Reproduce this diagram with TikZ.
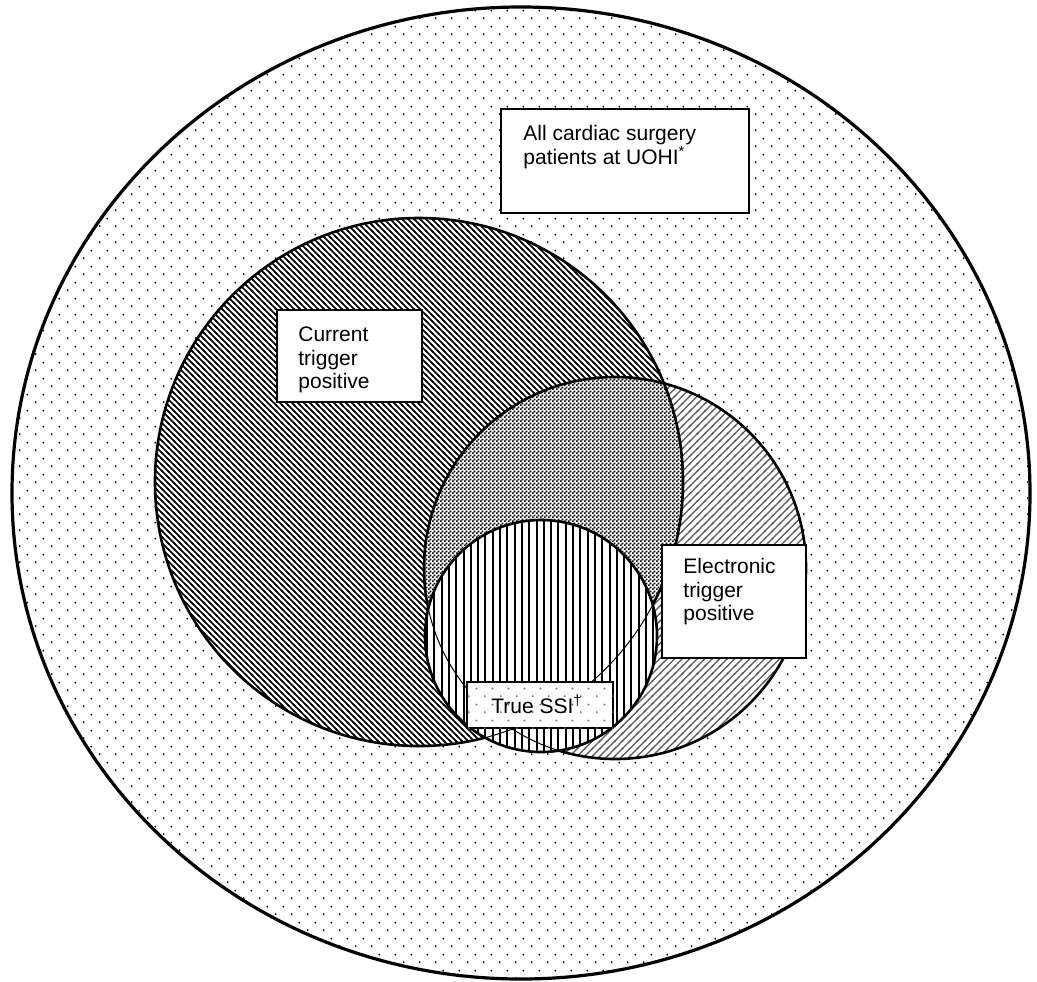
\documentclass[tikz,border=0pt]{standalone}
\usepackage{fontspec}
\setmainfont{Liberation Sans}
\usetikzlibrary{patterns}
\pgfdeclarepatternformonly{outerdots}{\pgfqpoint{0pt}{0pt}}{\pgfqpoint{7.75pt}{7.8pt}}{\pgfqpoint{7.75pt}{7.8pt}}{%
  \pgfpathcircle{\pgfqpoint{1.9375pt}{1.95pt}}{0.5pt}%
  \pgfpathcircle{\pgfqpoint{5.8125pt}{5.85pt}}{0.5pt}%
  \pgfusepath{fill}}
\pgfdeclarepatternformonly{curhatch}{\pgfqpoint{-1pt}{-1pt}}{\pgfqpoint{4pt}{4pt}}{\pgfqpoint{3pt}{3pt}}{%
  \pgfsetlinewidth{0.75pt}%
  \pgfpathmoveto{\pgfqpoint{-0.5pt}{3.5pt}}%
  \pgfpathlineto{\pgfqpoint{3.5pt}{-0.5pt}}%
  \pgfusepath{stroke}}
\pgfdeclarepatternformonly{elehatch}{\pgfqpoint{-1pt}{-1pt}}{\pgfqpoint{4.75pt}{4.75pt}}{\pgfqpoint{3.75pt}{3.75pt}}{%
  \pgfsetlinewidth{0.6pt}%
  \pgfpathmoveto{\pgfqpoint{-0.5pt}{-0.5pt}}%
  \pgfpathlineto{\pgfqpoint{4.25pt}{4.25pt}}%
  \pgfusepath{stroke}}
\pgfdeclarepatternformonly{checker}{\pgfqpoint{0pt}{0pt}}{\pgfqpoint{2pt}{2pt}}{\pgfqpoint{2pt}{2pt}}{%
  \pgfpathrectangle{\pgfqpoint{-0.05pt}{-0.05pt}}{\pgfqpoint{1.1pt}{1.1pt}}%
  \pgfpathrectangle{\pgfqpoint{0.95pt}{0.95pt}}{\pgfqpoint{1.1pt}{1.1pt}}%
  \pgfusepath{fill}}
\pgfdeclarepatternformonly{vlines}{\pgfqpoint{0pt}{-0.5pt}}{\pgfqpoint{3.65pt}{4.15pt}}{\pgfqpoint{3.65pt}{3.65pt}}{%
  \pgfsetlinewidth{1pt}%
  \pgfpathmoveto{\pgfqpoint{1.8pt}{-0.5pt}}%
  \pgfpathlineto{\pgfqpoint{1.8pt}{4.15pt}}%
  \pgfusepath{stroke}}
\begin{document}
\begin{tikzpicture}[x=0.5pt,y=-0.5pt,
  outline/.style={line width=1.3pt},
  thinline/.style={line width=0.5pt},
  boxst/.style={draw, line width=1pt, fill=white, inner sep=0pt},
  txt/.style={font=\fontsize{10.5}{11.75}\selectfont, align=left, inner sep=0pt, anchor=north west}]
\useasboundingbox (0,0) rectangle (1037,981);
\fill[white] (0,0) rectangle (1037,981);
\coordinate (oc) at (521,493);
\coordinate (cc) at (419,482);
\coordinate (ec) at (615,568);
\coordinate (sc) at (541,636);
\def\outerpath{(oc) ellipse [x radius=509, y radius=486]}
\def\curpath{(cc) ellipse [x radius=264, y radius=264]}
\def\elepath{(ec) ellipse [x radius=191, y radius=191]}
\def\ssipath{(sc) ellipse [x radius=116, y radius=116]}
% outer
\fill[pattern=outerdots] \outerpath;
% current
\fill[white] \curpath;
\fill[pattern=curhatch] \curpath;
% electronic
\fill[white] \elepath;
\fill[pattern=elehatch, pattern color=black!65] \elepath;
% intersection
\begin{scope}
  \clip \curpath;
  \fill[white] \elepath;
  \fill[pattern=checker] \elepath;
\end{scope}
\draw[outline] \curpath;
\draw[outline] \elepath;
% true SSI
\fill[white] \ssipath;
\fill[pattern=vlines] \ssipath;
\begin{scope}
  \clip \ssipath;
  \draw[thinline] \curpath;
  \draw[thinline] \elepath;
\end{scope}
\draw[outline] \ssipath;
\draw[line width=1.6pt] \outerpath;
% boxes
\node[boxst, minimum width=124pt, minimum height=52pt] (allbox) at (625,161) {};
\node[txt] (alltxt) at (523,125) {All cardiac surgery\\patients at UOHI\textsuperscript{*}};
\node[boxst, minimum width=72.5pt, minimum height=46pt] (curbox) at (349.5,356) {};
\node[txt] (curtxt) at (298,326.5) {Current\\trigger\\positive};
\node[boxst, minimum width=72pt, minimum height=56.5pt] (elebox) at (734,601.5) {};
\node[txt] (eletxt) at (683,558) {Electronic\\trigger\\positive};
\node[boxst, minimum width=73pt, minimum height=23pt] (ssibox) at (540,705) {};
\fill[pattern=outerdots, pattern color=black!60] (ssibox.south west) rectangle (ssibox.north east);
\node[font=\fontsize{10.5}{11.75}\selectfont, inner sep=0pt, anchor=base west] (ssitxt) at (491,713) {True SSI\textsuperscript{†}};
\end{tikzpicture}
\end{document}
